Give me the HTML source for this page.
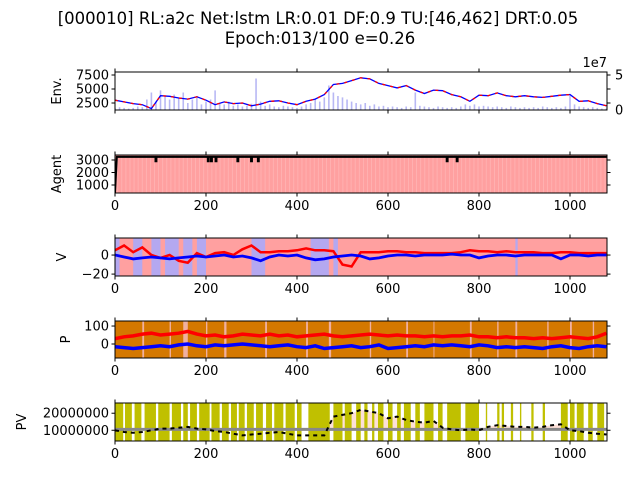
<!DOCTYPE html>
<html><head><meta charset="utf-8"><style>
body{margin:0;background:#fff;}
svg{display:block;font-family:"DejaVu Sans","Liberation Sans",sans-serif;}
</style></head><body>
<svg id="fig" width="640" height="480" viewBox="0 0 640 480">
<text x="318" y="24" font-size="16.5" text-anchor="middle">[000010] RL:a2c Net:lstm LR:0.01 DF:0.9 TU:[46,462] DRT:0.05</text>
<text x="320" y="44" font-size="16.5" text-anchor="middle">Epoch:013/100 e=0.26</text>
</svg>
<script>
// ---- data ----
const envPrice=[3000,2700,2400,2200,1500,3800,3700,3400,3200,3600,3000,2200,2700,2400,2500,2000,2300,2800,2900,2500,2200,2800,3200,4000,5800,6000,6500,7000,6800,6000,5600,5200,5600,4800,4200,4800,4700,4000,3600,2800,3900,3800,4300,3800,3600,3800,3600,3500,3700,3900,4000,2800,2900,2400,2000];
const volume=[0.3,0.4,0.3,0.2,0.3,0.5,0.4,1.5,2.5,1.2,2.8,2.0,1.5,2.2,1.8,2.5,1.0,1.5,2.0,0.8,1.2,1.5,2.8,1.0,0.8,1.2,0.6,0.8,0.5,0.6,0.9,4.5,1.2,0.6,0.8,0.5,0.4,0.6,0.5,0.4,0.3,0.5,0.8,1.0,1.5,1.2,1.8,3.5,2.5,2.0,1.8,1.5,1.2,1.0,0.8,1.0,0.6,0.8,0.5,0.6,0.4,0.5,0.4,0.3,0.5,0.4,2.5,0.6,0.5,0.4,0.3,0.5,0.4,0.3,0.4,0.3,0.5,0.8,0.6,0.8,0.5,0.6,0.5,0.4,0.5,0.4,0.3,0.5,0.4,0.3,0.4,0.3,0.4,0.3,0.5,0.4,0.3,0.4,0.3,0.5,2.0,0.8,0.5,0.4,0.3,0.4,0.3,0.2,0.2];
const agentBase=3250, agentStart=400;
const agentDips=[90,205,212,222,270,300,315,730,752];
const agentDipValue=2900;
const vRed=[5,10,3,8,0,-3,0,-6,-8,2,-2,2,3,0,6,10,3,3,4,4,5,7,5,5,4,-10,-12,3,3,3,4,4,3,3,2,2,2,2,3,5,4,4,3,4,3,3,3,2,2,3,3,2,2,2,2];
const vBlue=[0,-2,-4,-3,-2,-3,-4,-3,-2,-1,-2,-1,0,-2,-1,-3,-6,-2,0,-1,0,-3,-5,-4,-2,-1,0,-1,-4,-3,-1,0,0,-1,0,0,0,1,0,0,-3,-1,0,0,-1,0,0,0,0,-4,0,0,-1,0,0];
const vBlueSpans=[[0,10],[40,60],[80,100],[110,140],[150,170],[180,200],[300,330],[430,470],[480,490],[880,885]];
const pRed=[30,40,45,55,60,50,55,60,70,55,45,50,40,45,55,50,45,55,45,50,40,45,50,55,45,40,45,50,55,50,45,50,45,45,40,45,40,45,45,50,40,40,35,40,35,35,30,35,30,35,40,35,30,40,60];
const pBlue=[-15,-20,-25,-20,-15,-10,-15,-5,0,-10,-15,-5,-10,-5,0,-5,-10,-15,-10,-5,-15,-20,-10,-25,-20,-15,-10,-20,-15,-5,-25,-20,-15,-10,-15,-5,-10,-5,-10,-15,-5,-10,-20,-15,-20,-15,-20,-25,-15,-10,-20,-25,-15,-10,-15];
const pPinkSpans=[[60,64],[120,123],[150,160],[200,203],[240,245],[330,334],[420,424],[470,475],[560,563],[640,644],[700,702],[780,784],[840,843],[880,884],[950,953],[1000,1004],[1050,1053]];
const pv=[1.0e7,0.9e7,0.85e7,0.9e7,1.0e7,1.1e7,1.1e7,1.15e7,1.2e7,1.1e7,1.05e7,0.95e7,0.9e7,0.8e7,0.7e7,0.75e7,0.8e7,0.85e7,0.9e7,0.8e7,0.7e7,0.7e7,0.7e7,0.7e7,1.8e7,1.9e7,2.0e7,2.2e7,2.1e7,2.0e7,1.7e7,1.8e7,1.6e7,1.5e7,1.45e7,1.55e7,1.15e7,1.05e7,1.0e7,1.05e7,1.0e7,1.2e7,1.3e7,1.25e7,1.2e7,1.2e7,1.15e7,1.2e7,1.3e7,1.35e7,1.0e7,0.95e7,0.85e7,0.8e7,0.75e7];
const pvBase=1.05e7;
const pvSpans=[[0,18],[22,37],[43,58],[65,90],[95,120],[125,145],[150,160],[165,180],[185,208],[212,230],[235,250],[255,268],[272,285],[290,305],[310,325],[332,345],[350,370],[375,395],[400,410],[425,472],[480,500],[505,520],[530,540],[548,555],[565,570],[578,590],[600,610],[620,628],[635,650],[660,670],[680,700],[710,720],[730,760],[770,800],[815,818],[840,845],[850,855],[870,875],[890,893],[915,920],[940,945],[980,995],[1000,1010],[1015,1030],[1040,1050],[1060,1075]];
const xTicks=[0,200,400,600,800,1000];
const step=20, volStep=10;

// ---- drawing ----
const NS="http://www.w3.org/2000/svg";
const svg=document.getElementById('fig');
function el(tag,attrs,parent){const e=document.createElementNS(NS,tag);for(const k in attrs)e.setAttribute(k,attrs[k]);(parent||svg).appendChild(e);return e;}
const X0=115,X1=607,TMAX=1080.5;
const sx=t=>X0+t/1000*(570-X0);
function panel(top,bot,ymin,ymax){return {top,bot,sy:v=>bot-(v-ymin)/(ymax-ymin)*(bot-top)};}
const P1=panel(72,110,1250,8036), P2=panel(155,193,360,3400), P3=panel(238,276,-22,17.9), P4=panel(321,358,-78,128), P5=panel(403,441,3.7e6,2.6e7);
const vsy=v=>110-v/5*35;
function clip(id,p){const c=el('clipPath',{id});el('rect',{x:X0,y:p.top,width:X1-X0,height:p.bot-p.top},c);}
[P1,P2,P3,P4,P5].forEach((p,i)=>clip('c'+i,p));
function g(name,ci){const e=el('g',{'clip-path':'url(#c'+ci+')'});return e;}
function linePath(arr,sy,st){return arr.map((v,i)=>(i?'L':'M')+sx(i*st).toFixed(1)+','+sy(v).toFixed(1)).join('');}
function span(gp,p,a,b,fill){const r=el('rect',{x:sx(a),y:p.top,width:Math.max(0.8,sx(b)-sx(a)),height:p.bot-p.top,fill},gp);}

// Panel 1
let g1=g('env-plot',0);
volume.forEach((v,i)=>{const r=el('rect',{x:sx(i*volStep)-0.8,y:vsy(v),width:1.6,height:110-vsy(v),fill:'#b8b8f4'},g1);});
let l=el('path',{d:linePath(envPrice,P1.sy,step),fill:'none',stroke:'#0000ff','stroke-width':1.3},g1);

l=el('path',{d:linePath(envPrice,P1.sy,step),fill:'none',stroke:'#ff0000','stroke-width':1.3,'stroke-dasharray':'3,5'},g1);


// Panel 2
let g2=g('agent-plot',1);
span(g2,P2,0,TMAX,'#ffa0a0');
for(let t=5;t<TMAX;t+=9){span(g2,P2,t,t+1.5,'#ffb4b4');}
let d='M'+sx(0)+','+P2.sy(agentStart)+'L'+sx(4)+','+P2.sy(agentBase);
agentDips.forEach(t=>{d+='L'+sx(t-1)+','+P2.sy(agentBase)+'L'+sx(t-1)+','+P2.sy(agentDipValue)+'L'+sx(t+1)+','+P2.sy(agentDipValue)+'L'+sx(t+1)+','+P2.sy(agentBase);});
d+='L'+sx(TMAX)+','+P2.sy(agentBase);
l=el('path',{d,fill:'none',stroke:'#000','stroke-width':2},g2);


// Panel 3
let g3=g('v-plot',2);
span(g3,P3,0,TMAX,'#ffa0a0');
vBlueSpans.forEach(s=>span(g3,P3,s[0],s[1],'#b4a8f0'));
l=el('path',{d:linePath(vRed,P3.sy,step),fill:'none',stroke:'#ff0000','stroke-width':2.5},g3);

l=el('path',{d:linePath(vBlue,P3.sy,step),fill:'none',stroke:'#0000ff','stroke-width':2.8},g3);


// Panel 4
let g4=g('p-plot',3);
span(g4,P4,0,TMAX,'#d47800');
pPinkSpans.forEach(s=>span(g4,P4,s[0],s[1],'#f0b0a0'));
l=el('path',{d:linePath(pRed,P4.sy,step),fill:'none',stroke:'#ff0000','stroke-width':3.5},g4);

l=el('path',{d:linePath(pBlue,P4.sy,step),fill:'none',stroke:'#0000ff','stroke-width':3.5},g4);


// Panel 5
let g5=g('pv-plot',4);
let fd='M'+sx(0)+','+P5.sy(pvBase)+pv.map((v,i)=>'L'+sx(i*step)+','+P5.sy(Math.max(v,pvBase))).join('')+'L'+sx(TMAX)+','+P5.sy(pvBase)+'Z';
l=el('path',{d:fd,fill:'#fde0d8'},g5);

pvSpans.forEach(s=>span(g5,P5,s[0],s[1],'#c0c000'));
l=el('line',{x1:sx(0),x2:sx(TMAX),y1:P5.sy(pvBase),y2:P5.sy(pvBase),stroke:'#888','stroke-width':3},g5);

l=el('path',{d:linePath(pv,P5.sy,step),fill:'none',stroke:'#000','stroke-width':2,'stroke-dasharray':'4,4'},g5);


// Axes
function axes(p,name,yt,ylab,ylx,labelsX){
  const a=el('g',{});
  el('rect',{x:X0,y:p.top,width:X1-X0,height:p.bot-p.top,fill:'none',stroke:'#000','stroke-width':1},a);
  xTicks.forEach(t=>{const x=sx(t);
    el('line',{x1:x,x2:x,y1:p.bot,y2:p.bot+3.5,stroke:'#000'},a);
    el('line',{x1:x,x2:x,y1:p.top,y2:p.top-3.5,stroke:'#000'},a);
    if(labelsX){const tx=el('text',{x,y:p.bot+17,'font-size':13,'text-anchor':'middle'},a);tx.textContent=t;}
  });
  yt.forEach(([v,s])=>{const y=p.sy(v);
    el('line',{x1:X0,x2:X0-3.5,y1:y,y2:y,stroke:'#000'},a);
    el('line',{x1:X1,x2:X1+3.5,y1:y,y2:y,stroke:'#000'},a);
    const tx=el('text',{x:X0-6,y:y+4.5,'font-size':13,'text-anchor':'end'},a);tx.textContent=s;});
  const yl=el('text',{x:ylx,y:(p.top+p.bot)/2,'font-size':13,'text-anchor':'middle',transform:`rotate(-90 ${ylx} ${(p.top+p.bot)/2})`},a);
  yl.textContent=ylab;
}
axes(P1,'env',[[2500,'2500'],[5000,'5000'],[7500,'7500']],'Env.',61,false);
axes(P2,'agent',[[1000,'1000'],[2000,'2000'],[3000,'3000']],'Agent',61,true);
axes(P3,'v',[[-20,'−20'],[0,'0']],'V',66,true);
axes(P4,'p',[[0,'0'],[100,'100']],'P',70,true);
axes(P5,'pv',[[1e7,'10000000'],[2e7,'20000000']],'PV',26,true);
// secondary axis panel 1
[[0,'0'],[5,'5']].forEach(([v,s])=>{const tx=el('text',{x:X1+8,y:vsy(v)+4.5,'font-size':13});tx.textContent=s;});
const ex=el('text',{x:X1,y:67,'font-size':13,'text-anchor':'end'});ex.textContent='1e7';

</script>
</body></html>
